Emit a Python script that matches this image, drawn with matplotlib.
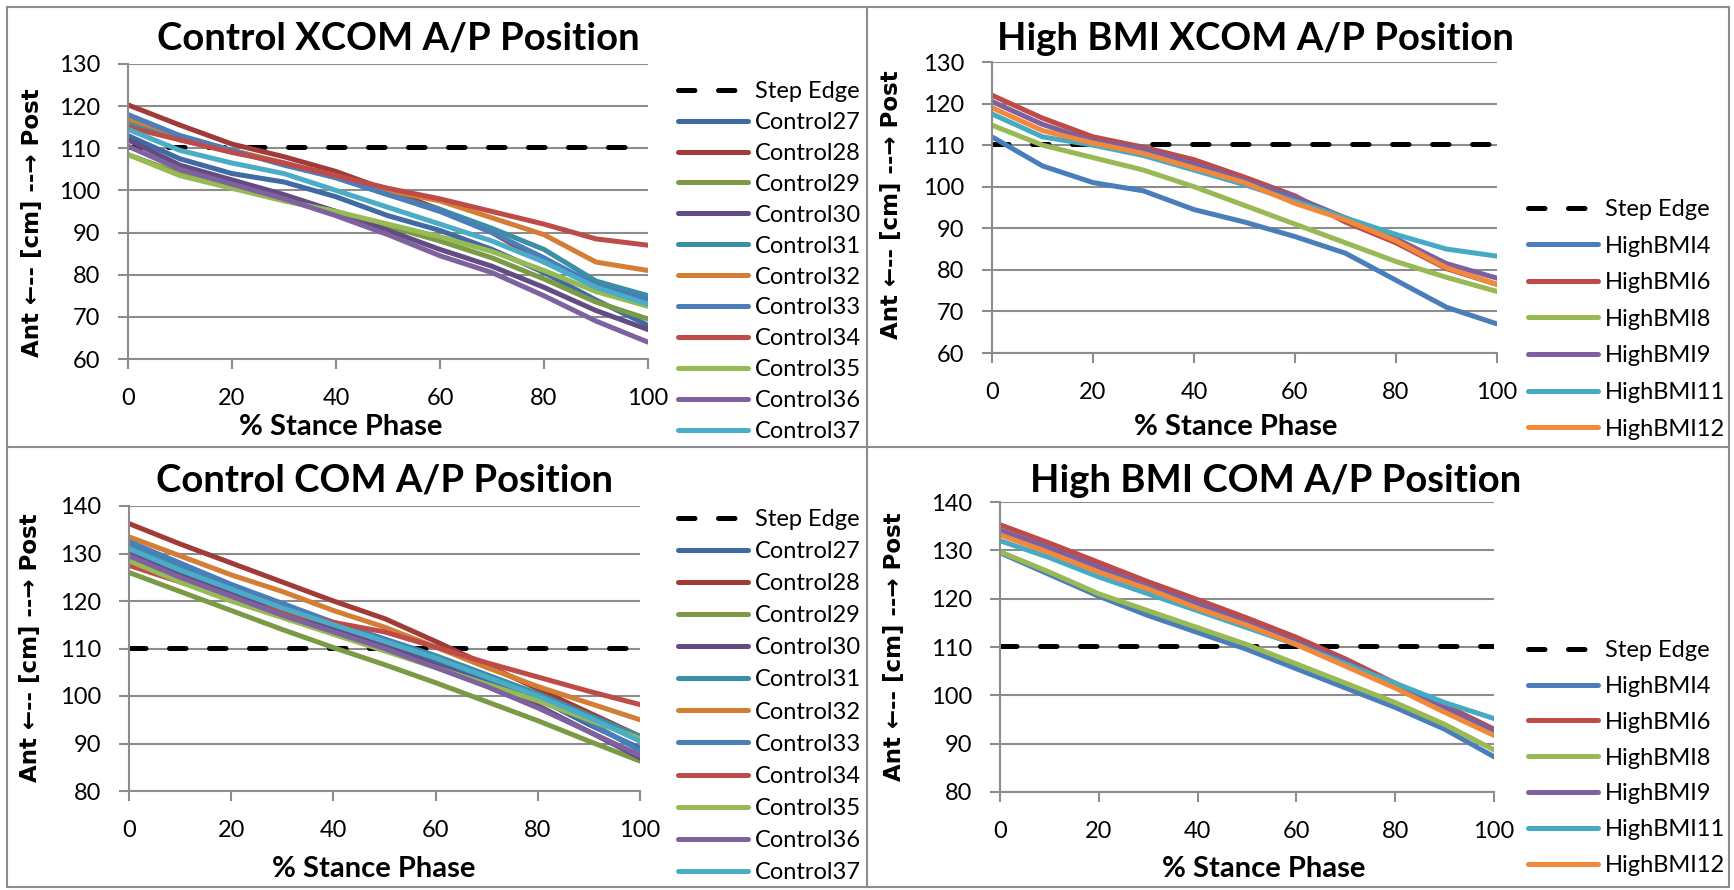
import matplotlib
matplotlib.use('Agg')
import matplotlib.pyplot as plt
from matplotlib.lines import Line2D

W, H = 1734, 890

stance_pct = [0, 10, 20, 30, 40, 50, 60, 70, 80, 90, 100]
step_edge = 110.2

control_names = ['Control27', 'Control28', 'Control29', 'Control30', 'Control31', 'Control32',
                 'Control33', 'Control34', 'Control35', 'Control36', 'Control37']
control_colors = ['#3F6AA3', '#A23B38', '#7A9A46', '#634C83', '#3A8EA5', '#D47D35',
                  '#4A7EBB', '#BE4B48', '#98BA54', '#7E62A0', '#4AACC6']
highbmi_names = ['HighBMI4', 'HighBMI6', 'HighBMI8', 'HighBMI9', 'HighBMI11', 'HighBMI12']
highbmi_colors = ['#4A7EBB', '#BE4B48', '#98B954', '#7D60A0', '#46AAC5', '#F0893C']

# XCOM anterior/posterior position, controls
control_xcom = [
    [113, 107.5, 104, 102, 98.5, 94, 90.5, 86, 80.5, 74, 68],
    [120.3, 115.5, 111, 108, 104.5, 100, 95.5, 90, 83, 78, 75],
    [108.5, 104, 101, 98.5, 95, 91.5, 88, 84, 79, 73.5, 69.5],
    [112, 106, 102.5, 99, 95, 90.5, 86, 82, 77, 71.5, 67],
    [116, 112, 109.5, 106.5, 103, 99, 95.5, 91, 86, 78.5, 75],
    [117, 113, 109.5, 106.5, 103.5, 100, 97.5, 93.5, 89.5, 83, 81],
    [118, 113, 109.5, 106, 103, 99, 95, 90, 84, 77.5, 74],
    [115, 112, 109, 106.5, 103.5, 100.5, 98, 95, 92, 88.5, 87],
    [108.5, 103.5, 100.5, 97.5, 95, 92, 89, 85.5, 81, 76, 72.5],
    [110.5, 105, 101.5, 98, 94, 89.5, 84.5, 80.5, 75, 69, 64],
    [114.5, 109.5, 106.5, 104, 100, 96, 92, 88, 83, 77, 73],
]

# XCOM anterior/posterior position, high BMI
highbmi_xcom = [
    [112, 105, 101, 99, 94.5, 91.5, 88, 84, 77.5, 71, 67],
    [122, 116.5, 112, 109.5, 106.5, 102.3, 97.8, 91.5, 86.5, 80.3, 76.5],
    [114.8, 110, 107, 104, 100, 95.5, 91, 86.5, 82, 78.2, 74.8],
    [120.5, 115, 111, 109, 105.5, 101.5, 97.5, 92.5, 87.5, 81.5, 78],
    [117.5, 112, 110, 107.5, 104, 100.5, 96.5, 92.5, 88.5, 85, 83.3],
    [119, 113.5, 110.5, 108, 104.5, 101, 96, 92, 87, 80.5, 76.5],
]

# COM anterior/posterior position, controls
control_com = [
    [132, 127.5, 123, 119, 115, 111.5, 107.5, 103.5, 99.5, 94, 89],
    [136.3, 132, 128, 124, 120, 116.3, 111.5, 106.5, 101.5, 96.5, 91.5],
    [126, 122, 118, 114, 110.2, 106.6, 102.8, 98.8, 94.8, 90.5, 86.3],
    [130, 125.5, 121.5, 117.5, 114, 110.5, 106.5, 102.5, 98, 92.5, 87],
    [131.5, 127, 123, 119, 115.5, 112, 108.5, 104.5, 100.5, 96, 91.5],
    [133.5, 129.5, 125.5, 122, 118, 114.5, 110.3, 106, 102, 98.5, 95],
    [132.5, 128, 123.5, 119.5, 115.5, 112, 108, 104, 100, 94.5, 88.5],
    [127.5, 124, 120.5, 117.5, 115.5, 113.5, 110.3, 107, 104, 101, 98.2],
    [128.5, 124, 120, 116.5, 113, 109.5, 106, 102.5, 99, 95, 91],
    [129.5, 125, 121, 117, 113.5, 110, 106, 102, 97.5, 92.5, 87.5],
    [131, 126.5, 122.5, 118.5, 115, 111.5, 108, 104, 100, 95.5, 90.5],
]

# COM anterior/posterior position, high BMI
highbmi_com = [
    [129.5, 125, 120.5, 116.5, 113, 109.5, 105.5, 101.5, 97.5, 93, 87.3],
    [135.3, 131.5, 127.5, 123.5, 119.8, 116, 112, 107.5, 102.5, 98, 93],
    [129.7, 125.5, 121, 117.5, 114, 110.5, 106.5, 102.5, 98.5, 94, 88.7],
    [134.2, 130.5, 126.5, 122.5, 119, 115, 111, 107, 102, 97.5, 92.7],
    [132, 128.5, 124.5, 121, 117.5, 114, 110.5, 106.5, 102.5, 98.5, 95.2],
    [133.2, 129.5, 125.5, 122, 118, 114.5, 110.5, 106, 101.5, 96.5, 91.7],
]

plt.rcParams['font.family'] = ['Lato', 'DejaVu Sans']
grid_gray = '#8C8C8C'

fig = plt.figure(figsize=(W / 100, H / 100), dpi=100)


def px_box(x0, y0, x1, y1):
    return [x0 / W, 1 - y1 / H, (x1 - x0) / W, (y1 - y0) / H]


panels = [
    # title, data, names, colors, axes box, ylim, title pos, xlabel pos, ylabel pos, legend pos, label spacing
    ('Control XCOM A/P Position', control_xcom, control_names, control_colors,
     (128, 64, 648, 359), (60, 130), (398, 50), (341, 435), (33, 223), (678, 81), 0.42),
    ('High BMI XCOM A/P Position', highbmi_xcom, highbmi_names, highbmi_colors,
     (992, 62, 1497, 353), (60, 130), (1255, 50), (1236, 435), (892, 205), (1528, 199), 0.66),
    ('Control COM A/P Position', control_com, control_names, control_colors,
     (129, 506, 640, 791), (80, 140), (384, 492), (374, 877), (31, 648), (678, 509), 0.47),
    ('High BMI COM A/P Position', highbmi_com, highbmi_names, highbmi_colors,
     (1000, 502, 1494, 792), (80, 140), (1276, 492), (1264, 877), (895, 647), (1528, 640), 0.63),
]

for title, data, names, colors, box, ylim, tpos, xlpos, ylpos, lgpos, lspace in panels:
    ax = fig.add_axes(px_box(*box))
    ax.plot([0, 100], [step_edge, step_edge], color='black', lw=3.6,
            dashes=(3.3, 4.7), dash_capstyle='round', label='Step Edge')
    for vals, name, c in zip(data, names, colors):
        ax.plot(stance_pct, vals, color=c, lw=3.6, label=name,
                solid_capstyle='round', solid_joinstyle='round')

    ax.set_xlim(0, 100)
    ax.set_ylim(*ylim)
    ax.set_xticks(range(0, 101, 20))
    ax.set_yticks(range(ylim[0], ylim[1] + 1, 10))
    ax.grid(axis='y', color=grid_gray, lw=1.5)
    ax.set_axisbelow(True)
    for s in ['top', 'right']:
        ax.spines[s].set_visible(False)
    for s in ['left', 'bottom']:
        ax.spines[s].set_color(grid_gray)
        ax.spines[s].set_linewidth(1.5)
    ax.tick_params(axis='both', direction='out', length=7, width=1.5, color=grid_gray,
                   labelsize=17)
    ax.tick_params(axis='y', pad=13)
    ax.tick_params(axis='x', pad=14)

    fig.text(tpos[0] / W, 1 - tpos[1] / H, title, ha='center', va='baseline',
             fontsize=27.5, fontweight='bold')
    fig.text(xlpos[0] / W, 1 - xlpos[1] / H, '% Stance Phase', ha='center', va='baseline',
             fontsize=21, fontweight='bold')
    fig.text(ylpos[0] / W, 1 - ylpos[1] / H, 'Ant \u2190-- [cm] --\u2192 Post',
             ha='center', va='center', rotation=90, fontsize=16.5, fontweight='bold',
             family='DejaVu Sans')

    ax.legend(loc='upper left', bbox_to_anchor=(lgpos[0] / W, 1 - lgpos[1] / H),
              bbox_transform=fig.transFigure, frameon=False, borderaxespad=0,
              borderpad=0, fontsize=17, handlelength=2.95, handletextpad=0.3,
              labelspacing=lspace)

# chart frames
frame = dict(color=grid_gray, lw=1.5, transform=fig.transFigure)
for xs, ys in [((7, 1729), (7, 7)), ((7, 1729), (887, 887)), ((7, 7), (7, 887)),
               ((1729, 1729), (7, 887)), ((867, 867), (7, 887)), ((7, 1729), (447, 447))]:
    fig.add_artist(Line2D([x / W for x in xs], [1 - y / H for y in ys], **frame))

fig.savefig('out.png', dpi=100)
